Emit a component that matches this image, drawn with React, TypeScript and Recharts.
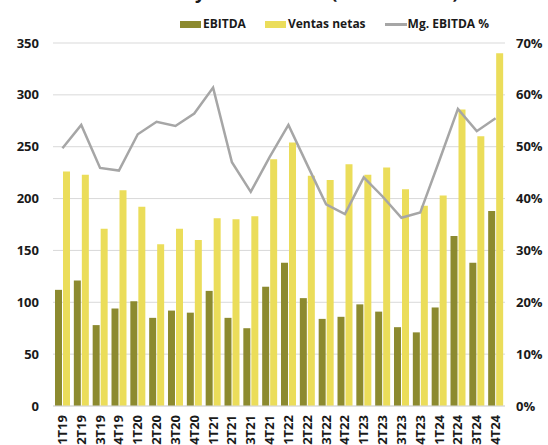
import {
  ComposedChart,
  Bar,
  Line,
  XAxis,
  YAxis,
  CartesianGrid,
} from 'recharts';

const quarters = [
  '1T19', '2T19', '3T19', '4T19',
  '1T20', '2T20', '3T20', '4T20',
  '1T21', '2T21', '3T21', '4T21',
  '1T22', '2T22', '3T22', '4T22',
  '1T23', '2T23', '3T23', '4T23',
  '1T24', '2T24', '3T24', '4T24',
];

const ebitda = [
  112, 121, 78, 94,
  101, 85, 92, 90,
  111, 85, 75, 115,
  138, 104, 84, 86,
  98, 91, 76, 71,
  95, 164, 138, 188,
];

const ventasNetas = [
  226, 223, 171, 208,
  192, 156, 171, 160,
  181, 180, 183, 238,
  254, 222, 218, 233,
  223, 230, 209, 193,
  203, 286, 260, 340,
];

const margenEbitda = [
  49.7, 54.2, 45.9, 45.4,
  52.4, 54.8, 54.0, 56.4,
  61.4, 47.0, 41.3, 48.0,
  54.2, 46.5, 38.9, 37.0,
  44.1, 40.4, 36.3, 37.3,
  47.2, 57.3, 53.0, 55.5,
];

const leftTicks = [0, 50, 100, 150, 200, 250, 300, 350];
const rightTicks = [0, 10, 20, 30, 40, 50, 60, 70];

const data = quarters.map((q, i) => ({
  q,
  ebitda: ebitda[i],
  ventas: ventasNetas[i],
  margen: margenEbitda[i],
}));

const FONT = '"Open Sans", "Noto Sans", sans-serif';
const OLIVE = '#8c8a2f';
const YELLOW = '#ebdd5a';
const GRAY = '#a6a6a6';

function QuarterTick({ x, y, payload }: any) {
  return (
    <text
      x={x}
      y={y}
      transform={`rotate(-90 ${x} ${y})`}
      textAnchor="end"
      dy="0.35em"
      fontSize={13}
      fontWeight={700}
      fill="#1a1a1a"
      fontFamily={FONT}
    >
      {payload.value}
    </text>
  );
}

function LegendRow() {
  const item = { display: 'flex', alignItems: 'center', marginRight: 19 } as const;
  return (
    <div
      style={{
        position: 'absolute',
        top: 15,
        left: 180,
        display: 'flex',
        fontFamily: FONT,
        fontSize: 12,
        fontWeight: 700,
        color: '#1a1a1a',
        lineHeight: '18px',
        whiteSpace: 'nowrap',
      }}
    >
      <div style={item}>
        <span style={{ width: 21, height: 7, background: OLIVE, marginRight: 2 }} />
        EBITDA
      </div>
      <div style={item}>
        <span style={{ width: 21, height: 7, background: YELLOW, marginRight: 2 }} />
        Ventas netas
      </div>
      <div style={item}>
        <span style={{ width: 22, height: 3, background: GRAY, marginRight: 1 }} />
        Mg. EBITDA %
      </div>
    </div>
  );
}

export default function App() {
  return (
    <div
      style={{
        position: 'absolute',
        left: 0,
        top: 0,
        width: 548,
        height: 445,
        overflow: 'hidden',
        background: '#fff',
      }}
    >
      <div
        style={{
          position: 'absolute',
          top: -17,
          left: 126,
          fontFamily: FONT,
          fontSize: 18,
          fontWeight: 700,
          lineHeight: '18px',
          whiteSpace: 'nowrap',
          color: '#1a1a1a',
        }}
      >
        EBITDA y Ventas netas (millones US$)
      </div>
      <LegendRow />
      <ComposedChart
        width={548}
        height={445}
        data={data}
        margin={{ top: 43, right: 0, left: 0, bottom: 0 }}
        barSize={7}
        barGap={1}
      >
        <CartesianGrid yAxisId="left" vertical={false} stroke="#d9d9d9" />
        <XAxis
          dataKey="q"
          interval={0}
          height={39}
          tickLine={false}
          axisLine={{ stroke: '#d9d9d9' }}
          tickMargin={3}
          tick={<QuarterTick />}
        />
        <YAxis
          yAxisId="left"
          width={53}
          domain={[0, 350]}
          ticks={leftTicks}
          axisLine={false}
          tickLine={false}
          tickMargin={8}
          tick={{ fontSize: 13, fontWeight: 700, fill: '#1a1a1a', fontFamily: FONT }}
        />
        <YAxis
          yAxisId="right"
          orientation="right"
          width={43}
          domain={[0, 70]}
          ticks={rightTicks}
          axisLine={false}
          tickLine={false}
          tickMargin={5}
          tickFormatter={(v: number) => `${v}%`}
          tick={{ fontSize: 13, fontWeight: 700, fill: '#1a1a1a', fontFamily: FONT }}
        />
        <Bar yAxisId="left" dataKey="ebitda" fill={OLIVE} isAnimationActive={false} />
        <Bar yAxisId="left" dataKey="ventas" fill={YELLOW} isAnimationActive={false} />
        <Line
          yAxisId="right"
          type="linear"
          dataKey="margen"
          stroke={GRAY}
          strokeWidth={2.5}
          dot={false}
          isAnimationActive={false}
        />
      </ComposedChart>
    </div>
  );
}
